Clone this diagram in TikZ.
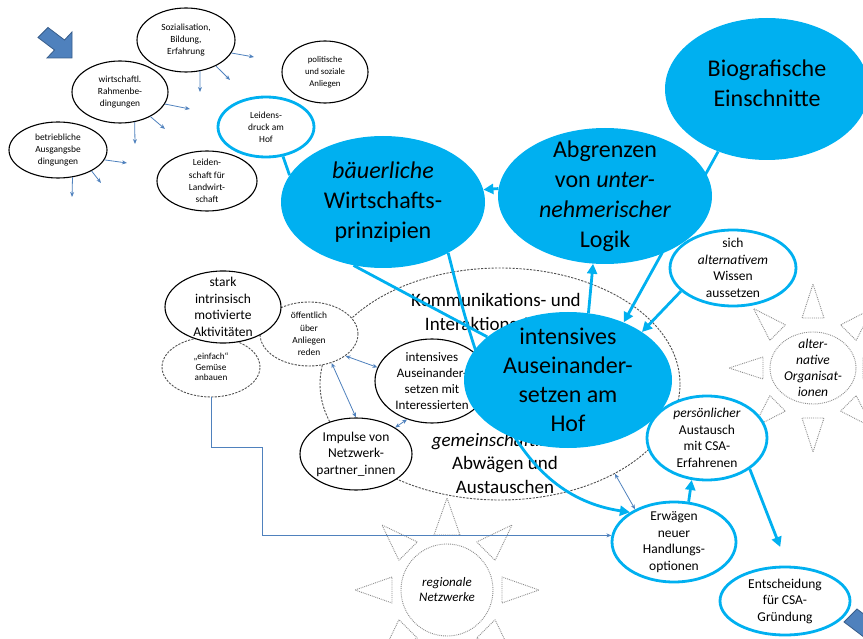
\documentclass[tikz,border=0pt]{standalone}
\usepackage{fontspec}
\setmainfont{Carlito}
\usetikzlibrary{shapes.geometric,arrows.meta,calc}
\definecolor{cyanb}{HTML}{00B0F0}
\definecolor{steel}{HTML}{4F81BD}
\definecolor{steeldark}{HTML}{385D8A}
\definecolor{dgray}{HTML}{505050}
\definecolor{sungray}{HTML}{8C8C8C}
\pgfdeclarelayer{back}
\pgfdeclarelayer{mid}
\pgfsetlayers{back,mid,main}
\begin{document}
\begin{tikzpicture}[x=1pt,y=-1pt,
 shell/.style={ellipse, inner sep=-25pt, fill=white, align=center},
 blk/.style={shell, draw=black, line width=1.1pt},
 dsh/.style={shell, draw=dgray, line width=0.9pt, dash pattern=on 2.2pt off 1.3pt},
 ring/.style={shell, draw=cyanb, line width=2.8pt},
 disc/.style={ellipse, inner sep=-25pt, fill=cyanb, draw=none, align=center},
 sunc/.style={shell, draw=sungray, line width=0.9pt, densely dotted},
 sunray/.style={draw=sungray, line width=0.9pt, densely dotted, fill=white, line join=round},
 fA/.style={font=\fontsize{9.4}{12.2}\selectfont},
 fB/.style={font=\fontsize{13.5}{16.5}\selectfont},
 fC/.style={font=\fontsize{19}{23.5}\selectfont, align=center},
 fD/.style={font=\fontsize{24}{30}\selectfont},
 con/.style={draw=cyanb, line width=2.8pt, -{Triangle[length=10pt,width=10pt]}},
 conplain/.style={draw=cyanb, line width=2.8pt},
 thin/.style={draw=steel, line width=0.8pt, -{Stealth[length=5pt,width=4pt]}},
 thinboth/.style={draw=steel, line width=0.8pt, {Stealth[length=5pt,width=4pt]}-{Stealth[length=5pt,width=4pt]}},
 blockarrow/.style={fill=steel, draw=steeldark, line width=0.8pt, line join=miter}
]
\useasboundingbox (0,0) rectangle (863,639);

% ---------------- back layer
\begin{pgfonlayer}{back}
 \node[sunc, minimum width=92pt, minimum height=92pt, font=\itshape\fontsize{13}{15}\selectfont] (regc) at (447,590) {regionale\\Netzwerke};
 \foreach \a in {0,45,...,315}
   \draw[sunray] ($(regc.center)+(\a:55)+(\a+90:13)$) -- ($(regc.center)+(\a:92)$) -- ($(regc.center)+(\a:55)+(\a-90:13)$) -- cycle;
 \node[sunc, minimum width=86pt, minimum height=72pt, font=\itshape\fontsize{13.5}{16.2}\selectfont] (altc) at (813,368) {alter-\\native\\Organisat-\\ionen};
 \foreach \a in {0,45,...,315}
   \draw[sunray] ($(altc.center)+(\a:50)+(\a+90:11)$) -- ($(altc.center)+(\a:84)$) -- ($(altc.center)+(\a:50)+(\a-90:11)$) -- cycle;

 \node[dsh, minimum width=360pt, minimum height=232pt] (komm) at (500,384) {};
 \node[fC] (kommtxt) at (496,312) {Kommunikations- und\\Interaktionsräume};
 \node[fC] (gemtxt) at (505,463) {\textit{gemeinschaftliches}\\Abwägen und\\Austauschen};
 \node[dsh, fA, minimum width=98pt, minimum height=64pt] (oeff) at (309,334) {öffentlich\\über\\Anliegen\\reden};
 \node[dsh, font=\fontsize{9.2}{10.5}\selectfont, minimum width=98pt, minimum height=60pt] (einf) at (211,367) {„einfach“\\Gemüse\\anbauen};
 \node[blk, fB, minimum width=116pt, minimum height=72pt] (stark) at (223,307) {stark\\intrinsisch\\motivierte\\Aktivitäten};
 \node[blk, font=\fontsize{13}{16}\selectfont, minimum width=114pt, minimum height=84pt] (inter) at (432,381) {intensives\\Auseinander-\\setzen mit\\Interessierten};
 \node[blk, fB, minimum width=112pt, minimum height=72pt] (imp) at (356,454) {Impulse von\\Netzwerk-\\partner\_innen};

 \node[ring, fB, minimum width=126pt, minimum height=76pt] (wiss) at (733,268) {sich\\\textit{alternativem}\\Wissen\\aussetzen};
 \node[ring, fB, minimum width=120pt, minimum height=84pt] (pers) at (707,438) {\textit{persönlicher}\\Austausch\\mit CSA-\\Erfahrenen};
 \node[ring, fB, minimum width=124pt, minimum height=80pt] (erw) at (674,542) {Erwägen\\neuer\\Handlungs-\\optionen};
 \node[ring, fB, minimum width=130pt, minimum height=68pt] (ent) at (785,601) {Entscheidung\\für CSA-\\Gründung};
\end{pgfonlayer}

% ---------------- top-left cluster
\node[blk, fA, minimum width=98pt, minimum height=64pt] (soz) at (186,40) {Sozialisation,\\Bildung,\\Erfahrung};
\node[blk, fA, minimum width=96pt, minimum height=62pt] (rahm) at (120,92) {wirtschaftl.\\Rahmenbe-\\dingungen};
\node[blk, fA, minimum width=98pt, minimum height=56pt] (betr) at (58,150) {betriebliche\\Ausgangsbe\\dingungen};
\node[blk, font=\fontsize{8.8}{12}\selectfont, minimum width=86pt, minimum height=62pt] (pol) at (325,72) {politische\\und soziale\\Anliegen};
\node[ring, fA, minimum width=96pt, minimum height=60pt] (leid) at (266,127) {Leidens-\\druck am\\Hof};
\node[blk, fA, minimum width=100pt, minimum height=60pt] (lsch) at (207,181) {Leiden-\\schaft für\\Landwirt-\\schaft};

\coordinate (s1) at (254,57); \coordinate (s2) at (230,80); \coordinate (s3) at (200,92);
\coordinate (r1) at (190,109); \coordinate (r2) at (165,129); \coordinate (r3) at (135,144);
\coordinate (b1) at (127,163); \coordinate (b2) at (101,183); \coordinate (b3) at (72,197);
\draw[thin] (soz.-16) -- (s1);
\draw[thin] (soz.-41) -- (s2);
\draw[thin] (soz.-66) -- (s3);
\draw[thin] (rahm.-15) -- (r1);
\draw[thin] (rahm.-39) -- (r2);
\draw[thin] (rahm.-64) -- (r3);
\draw[thin] (betr.-12) -- (b1);
\draw[thin] (betr.-32) -- (b2);
\draw[thin] (betr.-62) -- (b3);

% ---------------- big blue discs
\node[disc, minimum width=204pt, minimum height=142pt] (bio) at (767,89) {};
\node[fD, align=center] (biotxt) at (767,83) {Biografische\\Einschnitte};
\node[disc, fD, minimum width=214pt, minimum height=136pt] (abgr) at (605,196) {Abgrenzen\\von \textit{unter-}\\\textit{nehmerischer}\\Logik};
\node[disc, fD, minimum width=204pt, minimum height=132pt] (baeu) at (383,202) {\textit{bäuerliche}\\Wirtschafts-\\prinzipien};
\node[disc, minimum width=208pt, minimum height=136pt] (intens) at (568,380) {};
\node[font=\fontsize{24}{29}\selectfont, align=center] (intenstxt) at (568,380) {intensives\\Auseinander-\\setzen am\\Hof};

% ---------------- connectors hidden under the discs
\begin{pgfonlayer}{mid}
 \draw[conplain] (baeu.-115) -- (intens);
 \draw[con] (baeu.-38) .. controls (480,380) and (515,495) .. (erw.146);
\end{pgfonlayer}

% ---------------- visible connectors
\draw[conplain] (leid.-60) -- (baeu.164);
\draw[con] (abgr.176) -- (baeu.7);
\draw[con] (intens.73) -- (abgr.-100);
\draw[con] (bio.-128) -- (intens.46);
\draw[con] (wiss.-156) -- (intens.33);
\draw[con] (erw.70) -- (pers.-110);
\draw[con, shorten >=20pt] (pers.-36) -- (ent.86);

\draw[thinboth] (oeff.-31) -- (inter.166);
\draw[thinboth] (oeff.-52) -- (imp.90);
\draw[thinboth] (imp.34) -- (inter.-123);
\coordinate (ebend) at (262,447);
\draw[thin] (einf.south) |- (ebend) |- (erw.174);
\draw[thinboth] (komm.-38) -- (erw.140);

% ---------------- block arrows
\draw[blockarrow] (38,37.5) -- (48,27.5) -- (64.5,40) -- (72,32) -- (72,58) -- (47,58) -- (54.5,50) -- cycle;
\draw[blockarrow] (844,622) -- (857,609) -- (878.5,625.3) -- (888.2,614.9) -- (888.2,648.7) -- (855.7,648.7) -- (865.5,638.3) -- cycle;
\end{tikzpicture}
\end{document}
